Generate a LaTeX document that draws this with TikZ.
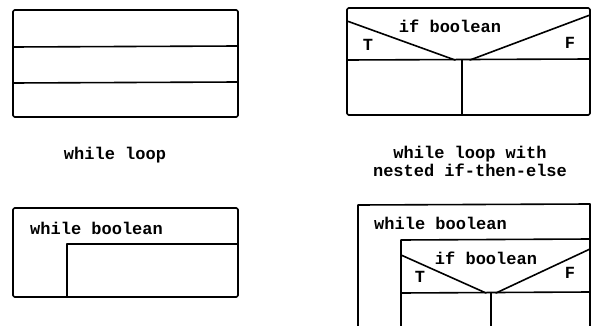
\documentclass[tikz,border=0pt]{standalone}
\usepackage{fontspec}
\setmonofont{Liberation Mono}
\begin{document}
\begin{tikzpicture}[x=1pt,y=-1pt,
  box/.style={line width=1.6pt,line join=round,line cap=round},
  lbl/.style={font=\ttfamily\bfseries\fontsize{17}{18}\selectfont,inner sep=0pt,align=center}]
\useasboundingbox (0,0) rectangle (591,326);
\clip (0,0) rectangle (591,326);
% top-left: while loop
\draw[box,rounded corners=1.5pt] (13,10) rectangle (238,117);
\draw[box] (13,47) -- (238,46);
\draw[box] (13,83) -- (238,82);
\node[lbl] (l1) at (115,155) {while loop};
% top-right: if-then-else
\draw[box,rounded corners=1.5pt] (347,8) rectangle (590,115);
\draw[box] (347,60) -- (590,59);
\draw[box] (347,21) -- (455,60);
\draw[box] (470,60) -- (590,15);
\draw[box] (462,60) -- (462,115);
\node[lbl] (i1) at (450,26) {if boolean};
\node[lbl] (t1) at (368,45) {T};
\node[lbl] (f1) at (570,43) {F};
\node[lbl] (l2) at (470,161) {while loop with\\nested if-then-else};
% bottom-left: while boolean
\draw[box,rounded corners=1.5pt] (13,208) rectangle (238,297);
\draw[box] (67,297) -- (67,244) -- (238,244);
\node[lbl,anchor=west] (w1) at (30,228) {while boolean};
% bottom-right: nested
\draw[box] (358,340) -- (358,205) -- (590,204) -- (590,340);
\node[lbl,anchor=west] (w2) at (374,223) {while boolean};
\draw[box] (401,340) -- (401,240) -- (590,239);
\draw[box] (401,293) -- (590,292);
\draw[box] (401,255) -- (486,293);
\draw[box] (496,293) -- (590,249);
\draw[box] (491,293) -- (491,340);
\node[lbl] (i2) at (486,258) {if boolean};
\node[lbl] (t2) at (420,277) {T};
\node[lbl] (f2) at (570,273) {F};
\end{tikzpicture}
\end{document}
